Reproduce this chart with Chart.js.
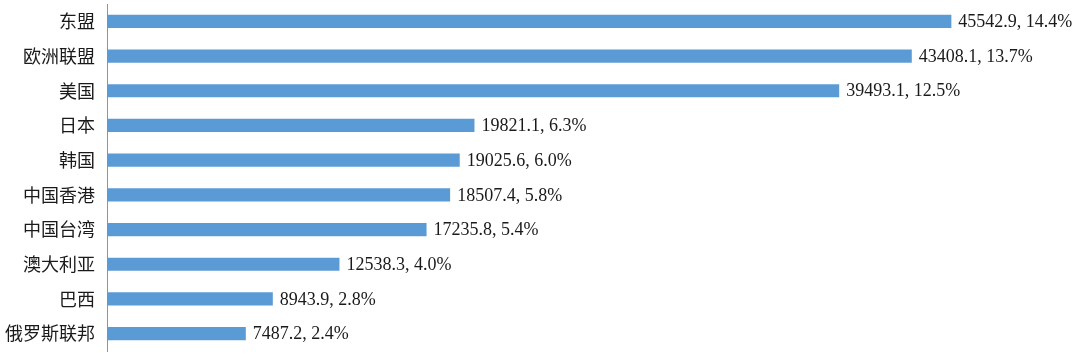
<!DOCTYPE html>
<html>
<head>
<meta charset="utf-8">
<script src="https://cdn.jsdelivr.net/npm/chart.js@4"></script>
<style>
  html, body { margin: 0; padding: 0; background: #fff; }
  #wrap { width: 1080px; height: 360px; }
</style>
</head>
<body>
<div id="wrap"><canvas id="tradeChart"></canvas></div>
<script>
// partners, trade value and share
const partners = ['东盟', '欧洲联盟', '美国', '日本', '韩国', '中国香港', '中国台湾', '澳大利亚', '巴西', '俄罗斯联邦'];
const values = [45542.9, 43408.1, 39493.1, 19821.1, 19025.6, 18507.4, 17235.8, 12538.3, 8943.9, 7487.2];
const shares = ['14.4%', '13.7%', '12.5%', '6.3%', '6.0%', '5.8%', '5.4%', '4.0%', '2.8%', '2.4%'];

// writes "value, share" just past the end of each bar
const barLabels = {
    id: 'barLabels',
    afterDatasetsDraw(chart) {
        const ctx = chart.ctx;
        const meta = chart.getDatasetMeta(0);
        ctx.save();
        ctx.font = '18px "Liberation Serif", "Times New Roman", serif';
        ctx.fillStyle = '#1a1a1a';
        ctx.textAlign = 'left';
        ctx.textBaseline = 'middle';
        meta.data.forEach((bar, i) => {
            ctx.fillText(values[i].toFixed(1) + ', ' + shares[i], bar.x + 7, bar.y + 1);
        });
        ctx.restore();
    }
};

new Chart(document.getElementById('tradeChart'), {
    type: 'bar',
    data: {
        labels: partners,
        datasets: [{
            data: values,
            backgroundColor: '#5b9bd5',
            barPercentage: 0.38,
            categoryPercentage: 1.0
        }]
    },
    options: {
        indexAxis: 'y',
        responsive: true,
        maintainAspectRatio: false,
        animation: false,
        layout: { padding: { top: 4, bottom: 9, right: 46, left: 0 } },
        plugins: { legend: { display: false }, tooltip: { enabled: false } },
        scales: {
            x: { display: false, min: 0, max: 50000 },
            y: {
                afterFit: (scale) => {
                    scale.width = 107;
                    scale.paddingTop = 0;
                    scale.paddingBottom = 0;
                },
                grid: { display: false, drawTicks: false },
                border: { display: true, color: '#8497b0', width: 1 },
                ticks: {
                    padding: 12,
                    color: '#1a1a1a',
                    font: { family: '"Noto Sans CJK SC", sans-serif', size: 18 }
                }
            }
        }
    },
    plugins: [barLabels]
});
</script>
</body>
</html>
